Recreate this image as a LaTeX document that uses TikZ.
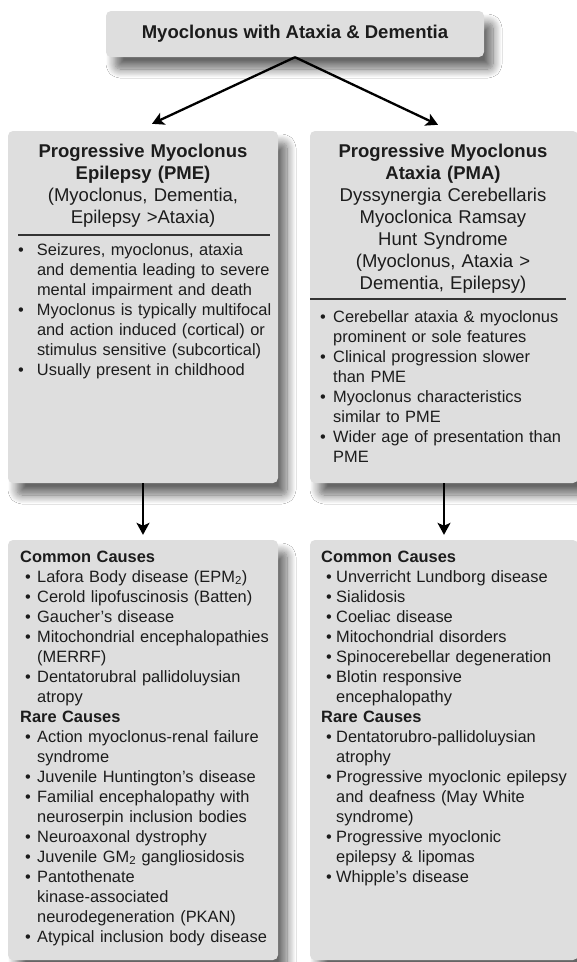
\documentclass[tikz,border=0pt]{standalone}
\usepackage{fontspec}
\setmainfont{Liberation Sans}
\usepackage{tikz}
\usetikzlibrary{arrows.meta,shadows.blur}

\definecolor{boxfill}{RGB}{222,222,222}
\definecolor{ink}{RGB}{28,28,28}

\newlength{\bulwd}
\newcommand{\bul}{\makebox[\bulwd][l]{\textbullet}}
\newcommand{\cnt}{\hspace*{\bulwd}}

\begin{document}
\begin{tikzpicture}[x=1pt, y=-1pt,
	panel/.style={fill=boxfill, rounded corners=5pt, inner sep=0pt,
		blur shadow={shadow xshift=9pt, shadow yshift=-12pt, shadow blur radius=9pt, shadow blur steps=12, shadow opacity=60}},
	arr/.style={line width=2.3pt, -{Stealth[length=12pt,width=13pt,inset=3pt]}},
	head/.style={font=\fontsize{18.5}{22}\selectfont, align=center, inner sep=0pt, text=ink},
	list/.style={font=\fontsize{16.4}{20}\selectfont, align=left, inner sep=0pt, text=ink, text width=255pt},
	bullets/.style={execute at begin node={\setlength{\bulwd}{#1}}},
	rule/.style={draw=black!80, line width=1.4pt}]

	\fill[white] (0,0) rectangle (577,962);
	\useasboundingbox (0,0) rectangle (577,962);

	\node[panel, minimum width=378pt, minimum height=46pt, font=\bfseries\fontsize{18.5}{22}\selectfont, text=ink] (top) at (295,34) {Myoclonus with Ataxia \& Dementia};

	\node[panel, minimum width=270pt, minimum height=352pt] (pme) at (143,307) {};
	\node[panel, minimum width=268pt, minimum height=352pt] (pma) at (444,307) {};
	\node[panel, minimum width=270pt, minimum height=420pt] (pmeCauses) at (143,750) {};
	\node[panel, minimum width=268pt, minimum height=420pt] (pmaCauses) at (444,750) {};

	% box headings
	\node[head, text width=270pt, anchor=base] (pmeTitle) at (143,157) {{\bfseries Progressive Myoclonus\\ Epilepsy (PME)}\\ (Myoclonus, Dementia,\\ Epilepsy >Ataxia)};
	\node[head, text width=268pt, anchor=base] (pmaTitle) at (443,157) {{\bfseries Progressive Myoclonus\\ Ataxia (PMA)}\\ Dyssynergia Cerebellaris\\ Myoclonica Ramsay\\ Hunt Syndrome\\ (Myoclonus, Ataxia >\\ Dementia, Epilepsy)};
	\draw[rule] (18,235) -- (270,235);
	\draw[rule] (310,299) -- (566,299);

	% features
	\node[list, bullets=19pt, anchor=base west] (pmeNotes) at (17.8,255) {\bul Seizures, myoclonus, ataxia\\ \cnt and dementia leading to severe\\ \cnt mental impairment and death\\ \bul Myoclonus is typically multifocal\\ \cnt and action induced (cortical) or\\ \cnt stimulus sensitive (subcortical)\\ \bul Usually present in childhood};
	\node[list, bullets=13pt, anchor=base west] (pmaNotes) at (320,322) {\bul Cerebellar ataxia \& myoclonus\\ \cnt prominent or sole features\\ \bul Clinical progression slower\\ \cnt than PME\\ \bul Myoclonus characteristics\\ \cnt similar to PME\\ \bul Wider age of presentation than\\ \cnt PME};

	% causes
	\node[list, bullets=12pt, anchor=base west] (pmeList) at (25,562) {\hspace*{-5pt}\textbf{Common Causes}\\ \bul Lafora Body disease (EPM\textsubscript{2})\\ \bul Cerold lipofuscinosis (Batten)\\ \bul Gaucher's disease\\ \bul Mitochondrial encephalopathies\\ \cnt (MERRF)\\ \bul Dentatorubral pallidoluysian\\ \cnt atropy\\ \hspace*{-5pt}\textbf{Rare Causes}\\ \bul Action myoclonus-renal failure\\ \cnt syndrome\\ \bul Juvenile Huntington's disease\\ \bul Familial encephalopathy with\\ \cnt neuroserpin inclusion bodies\\ \bul Neuroaxonal dystrophy\\ \bul Juvenile GM\textsubscript{2} gangliosidosis\\ \bul Pantothenate\\ \cnt kinase-associated\\ \cnt neurodegeneration (PKAN)\\ \bul Atypical inclusion body disease};
	\node[list, bullets=10pt, anchor=base west] (pmaList) at (326,562) {\hspace*{-5pt}\textbf{Common Causes}\\ \bul Unverricht Lundborg disease\\ \bul Sialidosis\\ \bul Coeliac disease\\ \bul Mitochondrial disorders\\ \bul Spinocerebellar degeneration\\ \bul Blotin responsive\\ \cnt encephalopathy\\ \hspace*{-5pt}\textbf{Rare Causes}\\ \bul Dentatorubro-pallidoluysian\\ \cnt atrophy\\ \bul Progressive myoclonic epilepsy\\ \cnt and deafness (May White\\ \cnt syndrome)\\ \bul Progressive myoclonic\\ \cnt epilepsy \& lipomas\\ \bul Whipple's disease};

	\draw[arr] (top.south) -- ([shift={(9pt,7pt)}]pme.north);
	\draw[arr] (top.south) -- ([shift={(-6pt,6pt)}]pma.north);
	\draw[arr] (pme.south) -- ([yshift=5pt]pmeCauses.north);
	\draw[arr] (pma.south) -- ([yshift=5pt]pmaCauses.north);

\end{tikzpicture}
\end{document}
